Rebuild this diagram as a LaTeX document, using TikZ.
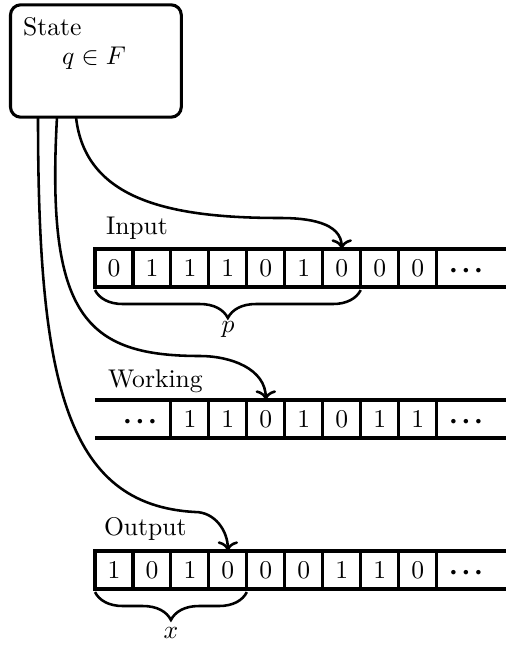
\documentclass[tikz,border=0pt]{standalone}
\usetikzlibrary{decorations.pathreplacing,arrows.meta}
\newcommand{\onedot}{\scalebox{0.45}{$\bullet$}}
\newcommand{\bdots}{\onedot\hspace{2.65pt}\onedot\hspace{2.65pt}\onedot}
\begin{document}
\begin{tikzpicture}[x=0.390625pt,y=-0.390625pt,
  cellbox/.style={draw,line width=1.2pt,minimum width=14.83pt,minimum height=14.84pt,inner sep=0pt,outer sep=0pt},
  tapeline/.style={line width=1.2pt},
  dotsnode/.style={inner sep=0pt},
  lbl/.style={anchor=base west,inner sep=0pt},
  conn/.style={line width=1pt,-{To}},
  bracestyle/.style={line width=1pt,decorate,decoration={brace,mirror,amplitude=10.9pt}}]
\useasboundingbox (0,0) rectangle (506,645);
\coordinate (re) at (506,0);
% state box
\node[draw,line width=1.2pt,rounded corners=4pt,minimum width=66.72pt,minimum height=43.9pt,inner sep=0pt,outer sep=0pt] (state) at (95.9,61) {};
\node[lbl] (statelbl) at (22.6,36) {State};
\node[lbl] (stateq) at (61.7,65) {$q\in F$};
\coordinate (s1) at (38,117);
\coordinate (s2) at (57,117);
\coordinate (s3) at (76,117);
% input tape
\node[lbl] (inlbl) at (105.5,235) {Input};
\foreach \d [count=\i from 0] in {0,1,1,1,0,1,0,0,0}
  \node[cellbox] (in-\i) at ({95+37.96*(\i+0.5)},268) {\d};
\draw[tapeline] (in-8.north east) -- (in-8.north east -| re);
\draw[tapeline] (in-8.south east) -- (in-8.south east -| re);
\node[dotsnode] (indots) at (466,270.5) {\bdots};
\draw[bracestyle] ([yshift=-1.2pt]in-0.south west) -- ([yshift=-1.2pt]in-6.south east);
\node[anchor=base,inner sep=0pt] (plbl) at (228,332) {$p$};
% working tape
\node[lbl] (worklbl) at (107.5,387) {Working};
\foreach \d [count=\i from 0] in {1,1,0,1,0,1,1}
  \node[cellbox] (work-\i) at ({95+37.96*(\i+2.5)},419) {\d};
\coordinate (wl) at (95,0);
\draw[tapeline] (work-0.north west -| wl) -- (work-0.north west);
\draw[tapeline] (work-0.south west -| wl) -- (work-0.south west);
\draw[tapeline] (work-6.north east) -- (work-6.north east -| re);
\draw[tapeline] (work-6.south east) -- (work-6.south east -| re);
\node[dotsnode] (workdotsl) at (140,421.5) {\bdots};
\node[dotsnode] (workdotsr) at (466,421.5) {\bdots};
% output tape
\node[lbl] (outlbl) at (103.5,535) {Output};
\foreach \d [count=\i from 0] in {1,0,1,0,0,0,1,1,0}
  \node[cellbox] (out-\i) at ({95+37.96*(\i+0.5)},570) {\d};
\draw[tapeline] (out-8.north east) -- (out-8.north east -| re);
\draw[tapeline] (out-8.south east) -- (out-8.south east -| re);
\node[dotsnode] (outdots) at (466,572.5) {\bdots};
\draw[bracestyle] ([yshift=-1.2pt]out-0.south west) -- ([yshift=-1.2pt]out-3.south east);
\node[anchor=base,inner sep=0pt] (xlbl) at (171,638) {$x$};
% connectors
\draw[conn] (s3) .. controls (85,200) and (170,218) .. (280,218)
  .. controls (307,218) and (341.7,222) .. (in-6.north);
\draw[conn] (s2) .. controls (46,315) and (85,356) .. (200,356)
  .. controls (231,356) and (265.8,369) .. (work-2.north);
\draw[conn] (s1) .. controls (38,380) and (65,505) .. (195,512)
  .. controls (215,512) and (227.9,531) .. (out-3.north);
\end{tikzpicture}
\end{document}
